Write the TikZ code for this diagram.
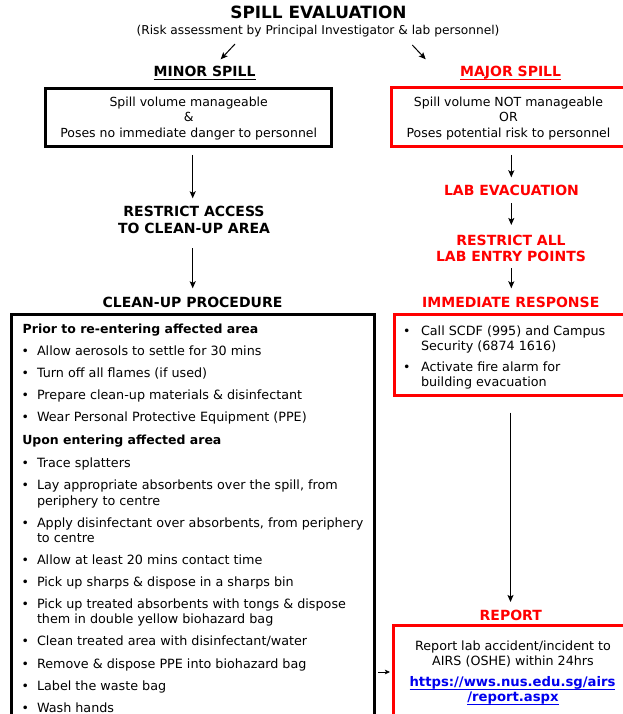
\documentclass[tikz,border=0pt]{standalone}
\usepackage{fontspec}
\setmainfont{DejaVu Sans}
\usetikzlibrary{arrows.meta}
\definecolor{spillred}{RGB}{255,0,0}
\definecolor{linkblue}{RGB}{0,0,238}
\tikzset{
  every node/.style={inner sep=0pt, outer sep=0pt},
  ttl/.style={font=\bfseries\fontsize{16.9}{20}\selectfont, anchor=base},
  sub/.style={font=\fontsize{12.2}{15}\selectfont, anchor=base},
  hd/.style={font=\bfseries\fontsize{14}{17}\selectfont, anchor=base},
  ctext/.style={font=\fontsize{12.5}{15}\selectfont, anchor=base},
  rtext/.style={font=\fontsize{12.7}{15}\selectfont, anchor=base},
  itext/.style={font=\fontsize{12.75}{15}\selectfont, anchor=base west},
  btext/.style={font=\bfseries\fontsize{12.5}{15}\selectfont, anchor=base west},
  bul/.style={font=\fontsize{12.5}{15}\selectfont, anchor=base},
  lnk/.style={font=\bfseries\fontsize{13.2}{15}\selectfont, anchor=base, text=linkblue},
  blkbox/.style={draw=black, line width=3pt, anchor=north west},
  redbox/.style={draw=spillred, line width=3pt, anchor=north west},
  arr/.style={line width=1pt, -{Stealth[length=7pt,width=6pt,inset=1.5pt]}},
  uline/.style={line width=0.9pt},
}
\begin{document}
\begin{tikzpicture}[x=1pt,y=-1pt]
\useasboundingbox (0,0) rectangle (623,714);
\begin{scope}
\clip (0,0) rectangle (623,714);
\fill[white] (0,0) rectangle (623,714);

% title
\node[ttl] (title) at (318.5,19) {SPILL EVALUATION};
\node[sub] (subtitle) at (318,34.3) {(Risk assessment by Principal Investigator \& lab personnel)};
\coordinate (dl1) at (235,44);
\coordinate (dl2) at (220.7,59.3);
\coordinate (dr1) at (412.3,45);
\coordinate (dr2) at (425.7,59.3);
\draw[arr] (dl1) -- (dl2);
\draw[arr] (dr1) -- (dr2);

% headings
\node[hd] (minorhd) at (204.6,77) {MINOR SPILL};
\draw[uline] ([yshift=-2.3pt]minorhd.base west) -- ([yshift=-2.3pt]minorhd.base east);
\node[hd, text=spillred] (majorhd) at (510.6,77) {MAJOR SPILL};
\draw[uline, spillred] ([yshift=-2.3pt]majorhd.base west) -- ([yshift=-2.3pt]majorhd.base east);

% minor box
\node[blkbox, minimum width=286pt, minimum height=58.4pt] (minor) at (45.7,88.3) {};
\node[ctext] (mi1) at (188.7,106.7) {Spill volume manageable};
\node[ctext] (mi2) at (188.7,121.7) {\&};
\node[ctext] (mi3) at (188.7,137.3) {Poses no immediate danger to personnel};

% major box
\node[redbox, minimum width=236pt, minimum height=59pt] (major) at (391.3,87.7) {};
\node[ctext] (ma1) at (508.5,106.7) {Spill volume NOT manageable};
\node[ctext] (ma2) at (508.5,121.7) {OR};
\node[ctext] (ma3) at (508.5,137.3) {Poses potential risk to personnel};

% left column
\coordinate (l1s) at (192.7,155);
\coordinate (l1e) at (192.7,198.3);
\draw[arr] (l1s) -- (l1e);
\node[hd] (ra1) at (194,216.7) {RESTRICT ACCESS};
\node[hd] (ra2) at (194,233.3) {TO CLEAN-UP AREA};
\coordinate (l2s) at (192.7,248.3);
\coordinate (l2e) at (192.7,288.3);
\draw[arr] (l2s) -- (l2e);
\node[hd] (cup) at (192.5,307.7) {CLEAN-UP PROCEDURE};

% right column
\coordinate (r1s) at (511.3,155);
\coordinate (r1e) at (511.3,177.3);
\draw[arr] (r1s) -- (r1e);
\node[hd, text=spillred] (evac) at (511.5,195) {LAB EVACUATION};
\coordinate (r2s) at (511.3,203.3);
\coordinate (r2e) at (511.3,225);
\draw[arr] (r2s) -- (r2e);
\node[hd, text=spillred] (rall1) at (511,245) {RESTRICT ALL};
\node[hd, text=spillred] (rall2) at (511,261.7) {LAB ENTRY POINTS};
\coordinate (r3s) at (511.3,268.3);
\coordinate (r3e) at (511.3,288.3);
\draw[arr] (r3s) -- (r3e);
\node[hd, text=spillred] (imm) at (510.8,307.5) {IMMEDIATE RESPONSE};

% clean-up box
\node[blkbox, minimum width=362.3pt, minimum height=420pt] (cbox) at (11.7,314) {};
\node[btext] (h1) at (22.7,333.3) {Prior to re-entering affected area};
\node[bul] (b1) at (25.3,355.6) {•};  \node[itext] (t1) at (37,355.6) {Allow aerosols to settle for 30 mins};
\node[bul] (b2) at (25.3,377.6) {•};  \node[itext] (t2) at (37,377.6) {Turn off all flames (if used)};
\node[bul] (b3) at (25.3,399.6) {•};  \node[itext] (t3) at (37,399.6) {Prepare clean-up materials \& disinfectant};
\node[bul] (b4) at (25.3,421.6) {•};  \node[itext] (t4) at (37,421.6) {Wear Personal Protective Equipment (PPE)};
\node[btext] (h2) at (22.3,444.8) {Upon entering affected area};
\node[bul] (b5) at (25.3,467.2) {•};  \node[itext] (t5) at (37,467.2) {Trace splatters};
\node[bul] (b6) at (25.3,489.8) {•};  \node[itext] (t6) at (37,489.8) {Lay appropriate absorbents over the spill, from};
\node[itext] (t6b) at (37,505) {periphery to centre};
\node[bul] (b7) at (25.3,527.3) {•};  \node[itext] (t7) at (37,527.3) {Apply disinfectant over absorbents, from periphery};
\node[itext] (t7b) at (37,542.3) {to centre};
\node[bul] (b8) at (25.3,564.3) {•};  \node[itext] (t8) at (37,564.3) {Allow at least 20 mins contact time};
\node[bul] (b9) at (25.3,586.3) {•};  \node[itext] (t9) at (37,586.3) {Pick up sharps \& dispose in a sharps bin};
\node[bul] (b10) at (25.3,608.3) {•}; \node[itext] (t10) at (37,608.3) {Pick up treated absorbents with tongs \& dispose};
\node[itext] (t10b) at (37,623.3) {them in double yellow biohazard bag};
\node[bul] (b11) at (25.3,645.8) {•}; \node[itext] (t11) at (37,645.8) {Clean treated area with disinfectant/water};
\node[bul] (b12) at (25.3,668) {•};   \node[itext] (t12) at (37,668) {Remove \& dispose PPE into biohazard bag};
\node[bul] (b13) at (25.3,690) {•};   \node[itext] (t13) at (37,690) {Label the waste bag};
\node[bul] (b14) at (25.3,712) {•};   \node[itext] (t14) at (37,712) {Wash hands};

% immediate response box
\node[redbox, minimum width=234pt, minimum height=80.5pt] (ibox) at (394.5,314.5) {};
\node[bul] (rb1) at (406.7,335) {•}; \node[itext] (rt1) at (421,335) {Call SCDF (995) and Campus};
\node[itext] (rt1b) at (421,350) {Security (6874 1616)};
\node[bul] (rb2) at (406.7,371.7) {•}; \node[itext] (rt2) at (421,371.7) {Activate fire alarm for};
\node[itext] (rt2b) at (421,386) {building evacuation};

% long arrow to report
\coordinate (r4s) at (510.5,412.7);
\coordinate (r4e) at (510.5,602);
\draw[arr] (r4s) -- (r4e);
\node[hd, text=spillred] (rep) at (510.8,620) {REPORT};

% report box
\node[redbox, minimum width=240pt, minimum height=110pt] (rbox) at (393.5,625.5) {};
\node[rtext] (rp1) at (513,650) {Report lab accident/incident to};
\node[rtext] (rp2) at (513,665) {AIRS (OSHE) within 24hrs};
\node[lnk] (lk1) at (512.5,686.7) {https://wws.nus.edu.sg/airs};
\draw[uline, linkblue] ([yshift=-2.5pt]lk1.base west) -- ([yshift=-2.5pt]lk1.base east);
\node[lnk] (lk2) at (513,701.7) {/report.aspx};
\draw[uline, linkblue] ([yshift=-2.5pt]lk2.base west) -- ([yshift=-2.5pt]lk2.base east);

% small arrow from clean-up box to report box
\coordinate (sa1) at (378,672);
\coordinate (sa2) at (390,672);
\draw[line width=0.8pt, -{Stealth[length=5pt,width=4.5pt,inset=1pt]}] (sa1) -- (sa2);
\end{scope}
\end{tikzpicture}
\end{document}
